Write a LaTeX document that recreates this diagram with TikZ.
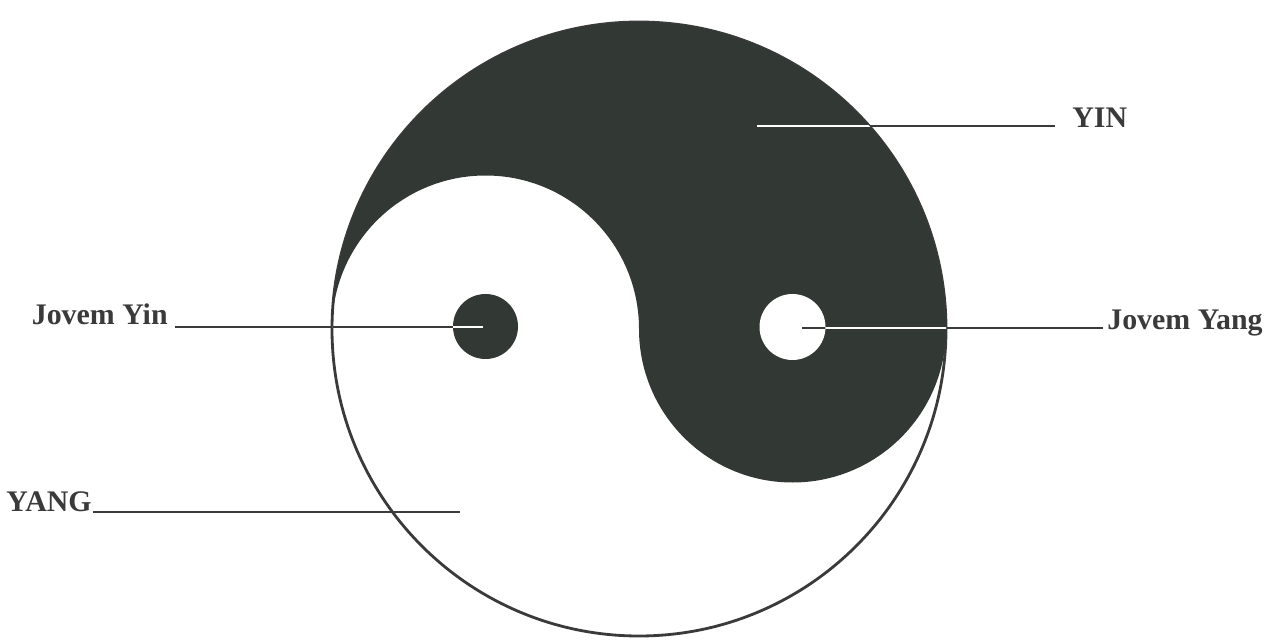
\documentclass[tikz,border=0pt]{standalone}
\usepackage{fontspec}
\setmainfont{Liberation Serif}
\usepackage{tikz}
\usepackage{xcolor}
\definecolor{yinfill}{RGB}{50,56,52}
\definecolor{inkgray}{RGB}{58,58,58}
\tikzset{
  lbl/.style={font=\fontsize{17}{20}\selectfont\bfseries, text=inkgray, inner ysep=0pt},
  leader/.style={draw=inkgray, line width=1.1pt},
  leaderw/.style={draw=white, line width=1.1pt},
}
\newcommand{\darkpath}{(6.64,6.20) arc[start angle=180,end angle=0,radius=6.14]
  arc[start angle=0,end angle=-180,radius=3.07]
  arc[start angle=0,end angle=180,radius=3.07] -- cycle}

\begin{document}
\begin{tikzpicture}
\useasboundingbox (0,0) rectangle (25.54,12.78);
% Outline of the disc
\draw[inkgray, line width=1.6pt] (12.78,6.20) circle[radius=6.14];
% Dark half (YIN)
\fill[yinfill] \darkpath;
% Small dots
\fill[yinfill] (9.71,6.25) circle[radius=0.65];   % Jovem Yin
\fill[white] (15.85,6.24) circle[radius=0.66];    % Jovem Yang
% Labels
\node[lbl, anchor=base west, inner xsep=0.34cm] (yin) at (21.10,10.22) {YIN};
\node[lbl, anchor=base east, inner xsep=0.14cm] (jyin) at (3.50,6.28) {Jovem Yin};
\node[lbl, anchor=base west, inner xsep=0.08cm] (jyang) at (22.06,6.18) {Jovem Yang};
\node[lbl, anchor=base east, inner xsep=0.02cm] (yang) at (1.86,2.56) {YANG};
% Leader points
\coordinate (yinpt) at (15.14,10.26);
\coordinate (jyinpt) at (9.66,6.24);
\coordinate (jyangpt) at (16.04,6.22);
\coordinate (yangpt) at (9.20,2.54);
% Leader lines
\draw[leader] (yinpt) -- (yinpt -| yin.west);
\draw[leader] (jyinpt) -- (jyinpt -| jyin.east);
\draw[leader] (jyangpt) -- (jyangpt -| jyang.west);
\draw[leader] (yangpt) -- (yangpt -| yang.east);
% Same lines in white where they cross dark ink
\begin{scope}[even odd rule]
  \clip \darkpath (9.71,6.25) circle[radius=0.65] (15.85,6.24) circle[radius=0.66];
  \draw[leaderw] (yinpt) -- (yinpt -| yin.west);
  \draw[leaderw] (jyinpt) -- (jyinpt -| jyin.east);
  \draw[leaderw] (jyangpt) -- (jyangpt -| jyang.west);
\end{scope}
\end{tikzpicture}
\end{document}
